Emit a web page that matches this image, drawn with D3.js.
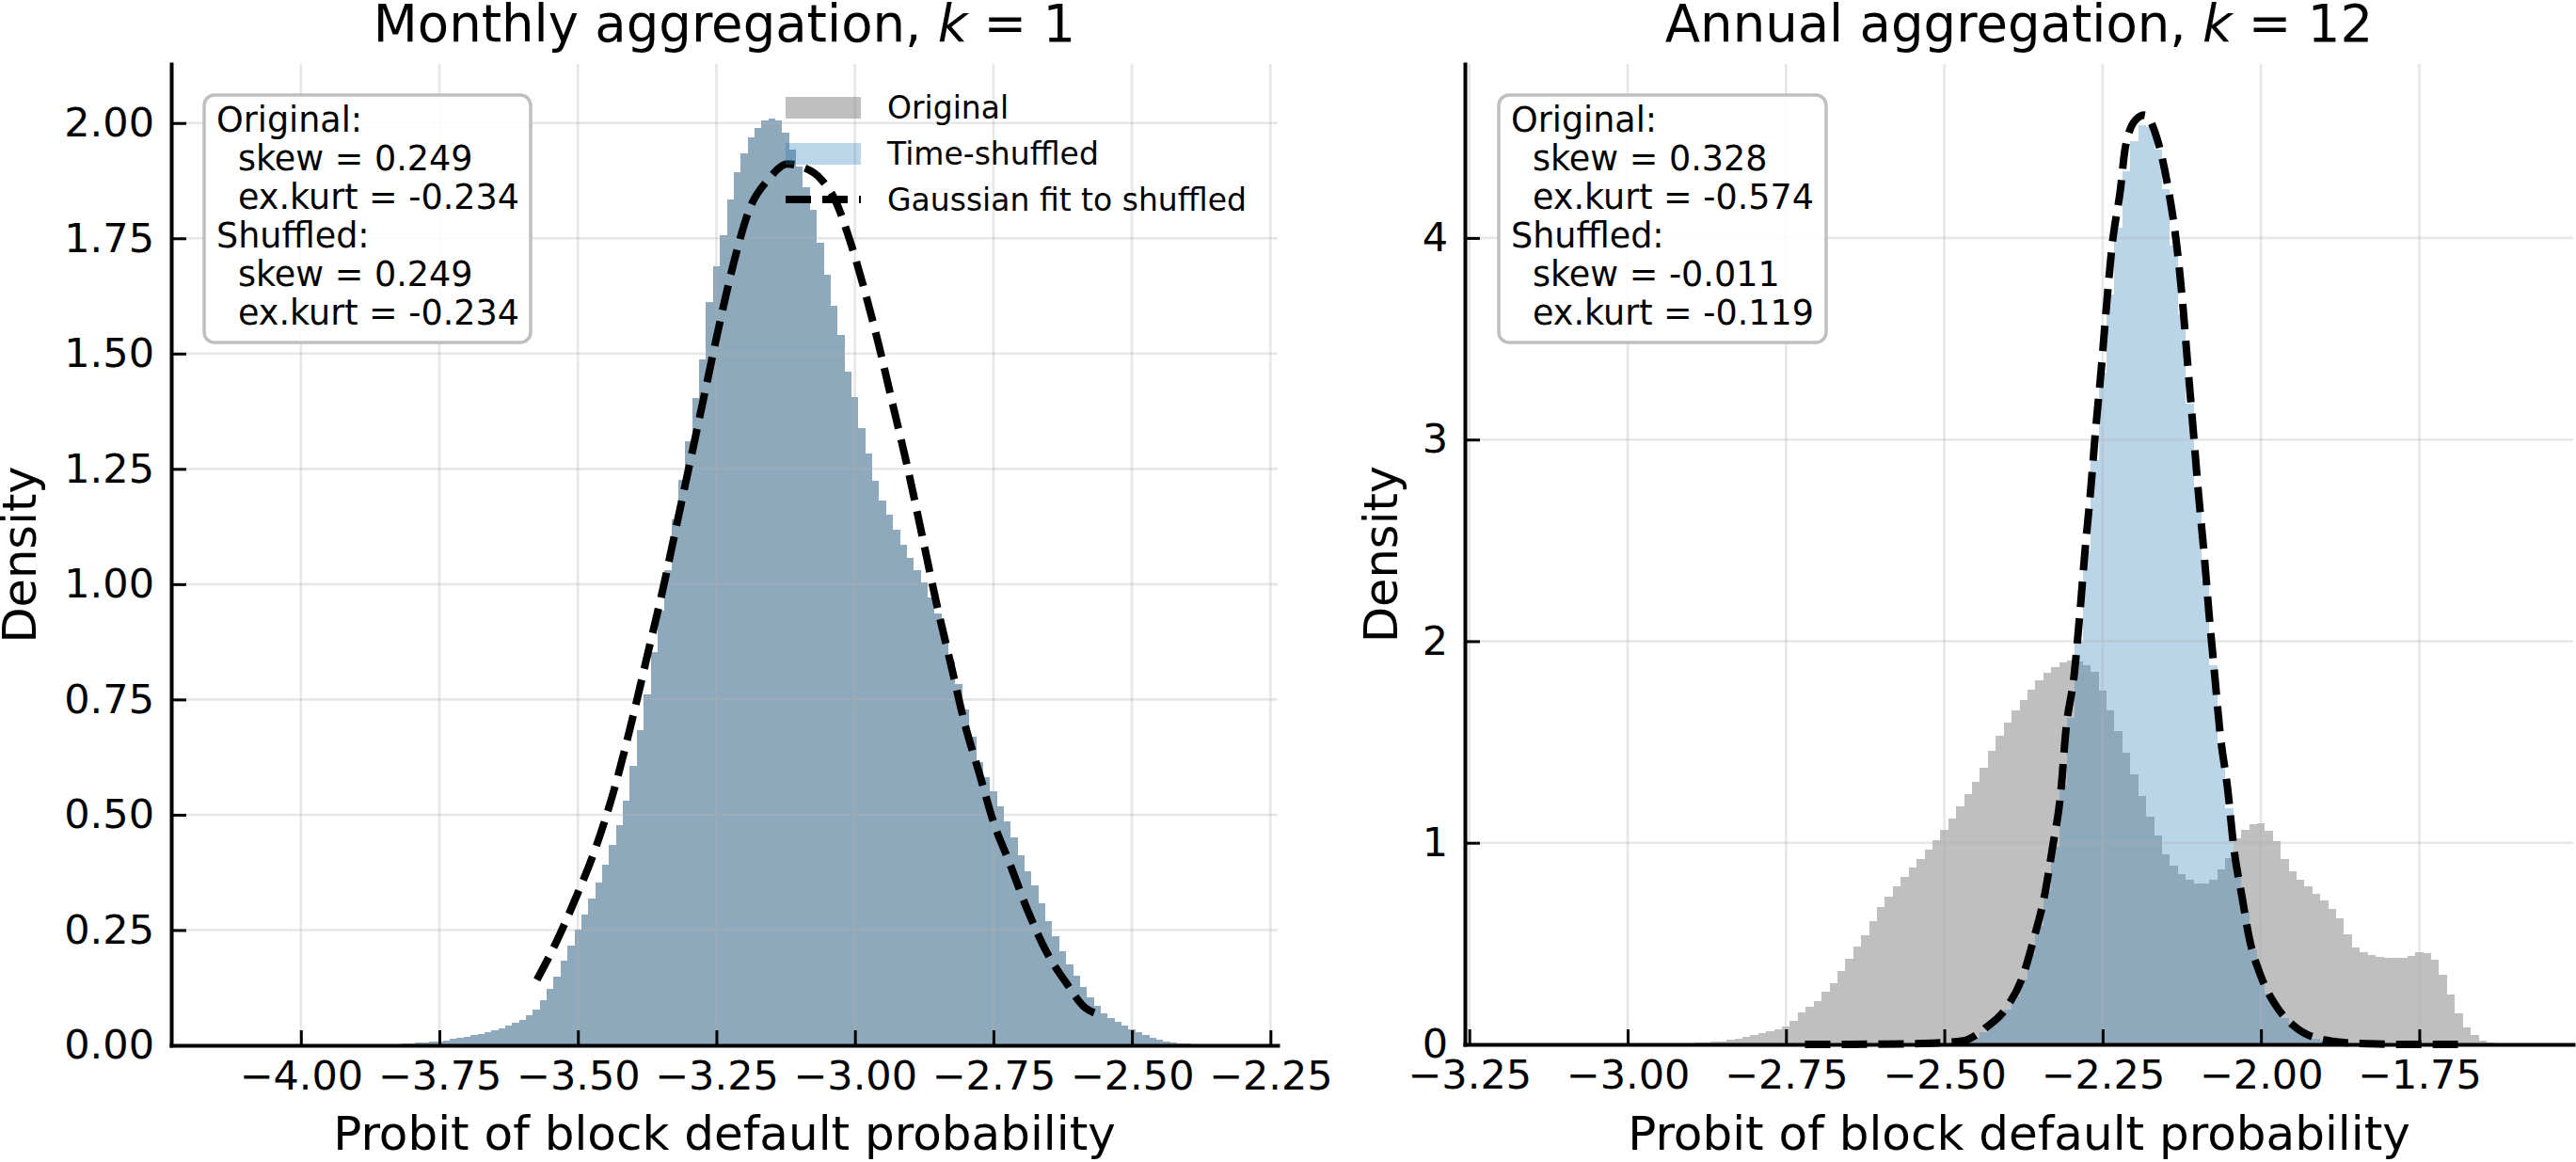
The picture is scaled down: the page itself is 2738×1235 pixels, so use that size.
<!DOCTYPE html>
<html>
<head>
<meta charset="utf-8">
<script src="https://cdn.jsdelivr.net/npm/d3@7"></script>
<style>
  body { margin: 0; background: #fff; }
  svg text { font-family: "DejaVu Sans", sans-serif; white-space: pre; }
</style>
</head>
<body>
<script>
// ---- data ----
const binWidth = 0.0125;

// monthly (k = 1): original and time-shuffled histograms are the same
const leftBinCenters = [
  -3.85,-3.8375,-3.825,-3.8125,-3.8,-3.7875,-3.775,-3.7625,
  -3.75,-3.7375,-3.725,-3.7125,-3.7,-3.6875,-3.675,-3.6625,
  -3.65,-3.6375,-3.625,-3.6125,-3.6,-3.5875,-3.575,-3.5625,
  -3.55,-3.5375,-3.525,-3.5125,-3.5,-3.4875,-3.475,-3.4625,
  -3.45,-3.4375,-3.425,-3.4125,-3.4,-3.3875,-3.375,-3.3625,
  -3.35,-3.3375,-3.325,-3.3125,-3.3,-3.2875,-3.275,-3.2625,
  -3.25,-3.2375,-3.225,-3.2125,-3.2,-3.1875,-3.175,-3.1625,
  -3.15,-3.1375,-3.125,-3.1125,-3.1,-3.0875,-3.075,-3.0625,
  -3.05,-3.0375,-3.025,-3.0125,-3.0,-2.9875,-2.975,-2.9625,
  -2.95,-2.9375,-2.925,-2.9125,-2.9,-2.8875,-2.875,-2.8625,
  -2.85,-2.8375,-2.825,-2.8125,-2.8,-2.7875,-2.775,-2.7625,
  -2.75,-2.7375,-2.725,-2.7125,-2.7,-2.6875,-2.675,-2.6625,
  -2.65,-2.6375,-2.625,-2.6125,-2.6,-2.5875,-2.575,-2.5625,
  -2.55,-2.5375,-2.525,-2.5125,-2.5,-2.4875,-2.475,-2.4625,
  -2.45,-2.4375,-2.425,-2.4125,-2.4,-2.3875,-2.375
];
const leftOriginal = [
  0.002,0.002,0.003,0.004,0.005,0.006,0.007,0.008,
  0.009,0.011,0.014,0.016,0.019,0.022,0.025,0.028,
  0.032,0.037,0.043,0.049,0.056,0.066,0.078,0.098,
  0.122,0.149,0.183,0.216,0.250,0.283,0.318,0.353,
  0.392,0.434,0.477,0.530,0.605,0.683,0.762,0.852,
  0.942,1.030,1.140,1.227,1.310,1.403,1.488,1.612,
  1.690,1.757,1.834,1.893,1.935,1.968,1.990,2.005,
  2.010,2.006,1.980,1.943,1.905,1.860,1.812,1.740,
  1.672,1.603,1.540,1.460,1.405,1.338,1.283,1.224,
  1.182,1.150,1.118,1.085,1.057,1.030,1.004,0.972,
  0.937,0.888,0.833,0.784,0.729,0.670,0.614,0.582,
  0.551,0.519,0.486,0.451,0.412,0.378,0.346,0.308,
  0.270,0.236,0.204,0.175,0.151,0.127,0.104,0.086,
  0.069,0.059,0.050,0.042,0.035,0.028,0.022,0.016,
  0.012,0.009,0.007,0.005,0.004,0.003,0.002
];
const leftShuffled = leftOriginal.slice(); // identical at k = 1

const leftFitX = [-3.574,-3.537,-3.503,-3.468,-3.433,-3.399,-3.373,-3.347,-3.321,-3.295,-3.269,-3.243,
  -3.217,-3.191,-3.156,-3.122,-3.096,-3.061,-3.035,-3.009,-2.983,-2.957,-2.931,-2.905,-2.879,-2.853,
  -2.827,-2.801,-2.775,-2.749,-2.723,-2.689,-2.654,-2.619,-2.585,-2.563];
const leftFitY = [0.142,0.229,0.322,0.428,0.561,0.721,0.854,0.987,1.133,1.279,1.426,1.572,
  1.705,1.811,1.878,1.911,1.905,1.878,1.831,1.745,1.639,1.519,1.386,1.253,1.107,0.960,
  0.827,0.694,0.588,0.481,0.402,0.295,0.202,0.136,0.082,0.068];

// annual (k = 12)
const rightOrigCenters = [
  -2.95,-2.9375,-2.925,-2.9125,-2.9,-2.8875,-2.875,-2.8625,
  -2.85,-2.8375,-2.825,-2.8125,-2.8,-2.7875,-2.775,-2.7625,
  -2.75,-2.7375,-2.725,-2.7125,-2.7,-2.6875,-2.675,-2.6625,
  -2.65,-2.6375,-2.625,-2.6125,-2.6,-2.5875,-2.575,-2.5625,
  -2.55,-2.5375,-2.525,-2.5125,-2.5,-2.4875,-2.475,-2.4625,
  -2.45,-2.4375,-2.425,-2.4125,-2.4,-2.3875,-2.375,-2.3625,
  -2.35,-2.3375,-2.325,-2.3125,-2.3,-2.2875,-2.275,-2.2625,
  -2.25,-2.2375,-2.225,-2.2125,-2.2,-2.1875,-2.175,-2.1625,
  -2.15,-2.1375,-2.125,-2.1125,-2.1,-2.0875,-2.075,-2.0625,
  -2.05,-2.0375,-2.025,-2.0125,-2.0,-1.9875,-1.975,-1.9625,
  -1.95,-1.9375,-1.925,-1.9125,-1.9,-1.8875,-1.875,-1.8625,
  -1.85,-1.8375,-1.825,-1.8125,-1.8,-1.7875,-1.775,-1.7625,
  -1.75,-1.7375,-1.725,-1.7125,-1.7,-1.6875,-1.675,-1.6625,
  -1.65,-1.6375,-1.625,-1.6125
];
const rightOriginal = [
  0.002,0.003,0.004,0.005,0.007,0.008,0.010,0.012,
  0.016,0.022,0.030,0.038,0.045,0.054,0.064,0.076,
  0.090,0.118,0.158,0.187,0.216,0.260,0.304,0.364,
  0.425,0.485,0.542,0.610,0.680,0.733,0.783,0.833,
  0.877,0.920,0.964,1.013,1.064,1.121,1.183,1.242,
  1.300,1.372,1.456,1.531,1.597,1.656,1.708,1.758,
  1.804,1.842,1.870,1.896,1.906,1.898,1.880,1.850,
  1.755,1.655,1.552,1.446,1.338,1.233,1.130,1.037,
  0.945,0.886,0.843,0.817,0.800,0.798,0.815,0.870,
  0.926,1.020,1.065,1.093,1.095,1.060,1.010,0.920,
  0.860,0.815,0.785,0.748,0.715,0.672,0.625,0.545,
  0.482,0.458,0.442,0.434,0.430,0.430,0.431,0.440,
  0.458,0.452,0.420,0.345,0.248,0.155,0.085,0.045,
  0.017,0.008,0.004,0.002
];
const rightShufCenters = [
  -2.5125,-2.5,-2.4875,-2.475,-2.4625,-2.45,-2.4375,-2.425,
  -2.4125,-2.4,-2.3875,-2.375,-2.3625,-2.35,-2.3375,-2.325,
  -2.3125,-2.3,-2.2875,-2.275,-2.2625,-2.25,-2.2375,-2.225,
  -2.2125,-2.2,-2.1875,-2.175,-2.1625,-2.15,-2.1375,-2.125,
  -2.1125,-2.1,-2.0875,-2.075,-2.0625,-2.05,-2.0375,-2.025,
  -2.0125,-2.0,-1.9875,-1.975,-1.9625,-1.95,-1.9375,-1.925,
  -1.9125,-1.9,-1.8875,-1.875,-1.8625
];
const rightShuffled = [
  0.004,0.007,0.010,0.014,0.022,0.035,0.060,0.090,
  0.130,0.175,0.240,0.320,0.450,0.590,0.760,0.980,
  1.290,1.620,2.000,2.450,2.900,3.330,3.720,4.050,
  4.330,4.480,4.560,4.550,4.440,4.240,3.960,3.620,
  3.180,2.760,2.300,1.880,1.480,1.170,0.880,0.660,
  0.470,0.340,0.250,0.180,0.130,0.090,0.062,0.042,
  0.028,0.018,0.011,0.007,0.004
];

const rightFitX = [-2.72,-2.60,-2.52,-2.470,-2.436,-2.401,-2.376,-2.359,-2.342,-2.329,-2.316,-2.308,
  -2.295,-2.286,-2.278,-2.269,-2.261,-2.252,-2.244,-2.235,-2.222,-2.214,-2.197,-2.184,
  -2.163,-2.146,-2.133,-2.124,-2.116,-2.107,-2.099,-2.090,-2.082,-2.073,-2.065,-2.052,
  -2.043,-2.030,-2.018,-2.000,-1.975,-1.949,-1.915,-1.85,-1.76,-1.689];
const rightFitY = [0.000,0.001,0.006,0.018,0.079,0.186,0.338,0.521,0.734,0.978,1.252,1.557,
  1.831,2.136,2.441,2.745,3.050,3.355,3.659,3.964,4.238,4.452,4.589,4.610,
  4.482,4.238,3.964,3.690,3.385,3.050,2.745,2.441,2.136,1.831,1.557,1.252,
  0.978,0.734,0.521,0.338,0.186,0.094,0.034,0.005,0.000,0.000];

// skew, ex.kurt for original, then shuffled
const leftStats = [0.249, -0.234, 0.249, -0.234];
const rightStats = [0.328, -0.574, -0.011, -0.119];

const leftXTicks = [-4.00, -3.75, -3.50, -3.25, -3.00, -2.75, -2.50, -2.25];
const leftYTicks = [0, 0.25, 0.5, 0.75, 1.0, 1.25, 1.5, 1.75, 2.0];
const rightXTicks = [-3.25, -3.00, -2.75, -2.50, -2.25, -2.00, -1.75];
const rightYTicks = [0, 1, 2, 3, 4];

const legendLabels = ["Original", "Time-shuffled", "Gaussian fit to shuffled"];

// ---- drawing ----
const W = 2738, H = 1235;
const grayFill = "#808080", grayAlpha = 0.5;
const blueFill = "#1f77b4", blueAlpha = 0.3;
const dash = "27,12";

[[leftBinCenters, leftOriginal], [rightOrigCenters, rightOriginal], [rightShufCenters, rightShuffled],
 [leftFitX, leftFitY], [rightFitX, rightFitY]].forEach(([a, b]) => {
  if (a.length !== b.length) throw new Error("length mismatch " + a.length + " vs " + b.length);
});

const svg = d3.select("body").append("svg")
  .attr("width", W).attr("height", H);
svg.append("rect").attr("width", W).attr("height", H).attr("fill", "#fff");

const panels = [
  {
    title: ["Monthly aggregation, ", "k", " = 1"],
    left: 182, right: 1358, top: 68, bottom: 1111,
    xDomain: [-4.234, -2.237], yDomain: [0, 2.128],
    xTicks: leftXTicks, yTicks: leftYTicks, yFormat: d3.format(".2f"),
    orig: [leftBinCenters, leftOriginal], shuf: [leftBinCenters, leftShuffled],
    fit: [leftFitX, leftFitY], stats: leftStats,
    box: [217, 101, 347, 263], ylabelX: 38, legend: true
  },
  {
    title: ["Annual aggregation, ", "k", " = 12"],
    left: 1557, right: 2735, top: 68, bottom: 1110,
    xDomain: [-3.257, -1.507], yDomain: [0, 4.863],
    xTicks: rightXTicks, yTicks: rightYTicks, yFormat: d3.format("d"),
    orig: [rightOrigCenters, rightOriginal], shuf: [rightShufCenters, rightShuffled],
    fit: [rightFitX, rightFitY], stats: rightStats,
    box: [1593, 101, 348, 263], ylabelX: 1485, legend: false
  }
];

panels.forEach(p => {
  const x = d3.scaleLinear().domain(p.xDomain).range([p.left, p.right]);
  const y = d3.scaleLinear().domain(p.yDomain).range([p.bottom, p.top]);
  const g = svg.append("g");

  // histograms
  function hist(centers, values, fill, alpha) {
    g.append("g").attr("opacity", alpha).attr("shape-rendering", "crispEdges")
      .selectAll("rect").data(values).join("rect")
      .attr("x", (d, i) => x(centers[i] - binWidth / 2))
      .attr("width", (d, i) => x(centers[i] + binWidth / 2) - x(centers[i] - binWidth / 2))
      .attr("y", d => y(d))
      .attr("height", d => y(0) - y(d))
      .attr("fill", fill);
  }
  hist(p.orig[0], p.orig[1], grayFill, grayAlpha);
  hist(p.shuf[0], p.shuf[1], blueFill, blueAlpha);

  // grid (drawn above the bars, as in the original)
  const grid = g.append("g").attr("stroke", "#b0b0b0").attr("stroke-opacity", 0.3).attr("stroke-width", 2.6);
  grid.selectAll(".gx").data(p.xTicks).join("line")
    .attr("x1", d => x(d)).attr("x2", d => x(d)).attr("y1", p.top).attr("y2", p.bottom);
  grid.selectAll(".gy").data(p.yTicks).join("line")
    .attr("x1", p.left).attr("x2", p.right).attr("y1", d => y(d)).attr("y2", d => y(d));

  // gaussian fit
  const line = d3.line().x(d => x(d[0])).y(d => y(d[1])).curve(d3.curveMonotoneX);
  g.append("path")
    .datum(p.fit[0].map((v, i) => [v, p.fit[1][i]]))
    .attr("d", line)
    .attr("fill", "none").attr("stroke", "#000").attr("stroke-width", 8)
    .attr("stroke-dasharray", dash);

  // axes
  const xAxis = d3.axisBottom(x).tickValues(p.xTicks).tickFormat(d3.format(".2f"))
    .tickSizeInner(-16).tickSizeOuter(0).tickPadding(16);
  const yAxis = d3.axisLeft(y).tickValues(p.yTicks).tickFormat(p.yFormat)
    .tickSizeInner(-16).tickSizeOuter(0).tickPadding(18);
  const gx = g.append("g").attr("transform", `translate(0,${p.bottom})`).call(xAxis);
  const gy = g.append("g").attr("transform", `translate(${p.left},0)`).call(yAxis);
  [gx, gy].forEach(a => {
    a.attr("font-family", null).attr("font-size", null);
    a.select(".domain").attr("stroke-width", 4).attr("stroke-linecap", "square");
    a.selectAll(".tick line").attr("stroke-width", 3);
    a.selectAll(".tick text").attr("font-size", 43).attr("fill", "#000");
  });

  // labels
  g.append("text")
    .attr("x", (p.left + p.right) / 2).attr("y", 1222)
    .attr("text-anchor", "middle").attr("font-size", 50)
    .text("Probit of block default probability");
  g.append("text")
    .attr("transform", `translate(${p.ylabelX},${(p.top + p.bottom) / 2}) rotate(-90)`)
    .attr("text-anchor", "middle").attr("font-size", 49.5)
    .text("Density");
  const t = g.append("text")
    .attr("x", (p.left + p.right) / 2).attr("y", 44)
    .attr("text-anchor", "middle").attr("font-size", 54.5);
  t.append("tspan").text(p.title[0]);
  t.append("tspan").attr("font-style", "italic").text(p.title[1]);
  t.append("tspan").text(p.title[2]);

  // stats box
  const [bx, by, bw, bh] = p.box;
  g.append("rect").attr("x", bx).attr("y", by).attr("width", bw).attr("height", bh)
    .attr("rx", 11).attr("fill", "#fff").attr("fill-opacity", 0.85)
    .attr("stroke", "#bfbfbf").attr("stroke-width", 3.5);
  const lines = [
    ["Original:", 0],
    ["skew = " + p.stats[0].toFixed(3), 1],
    ["ex.kurt = " + p.stats[1].toFixed(3), 1],
    ["Shuffled:", 0],
    ["skew = " + p.stats[2].toFixed(3), 1],
    ["ex.kurt = " + p.stats[3].toFixed(3), 1]
  ];
  g.append("g").selectAll("text").data(lines).join("text")
    .attr("x", d => bx + 13 + d[1] * 23)
    .attr("y", (d, i) => by + 39 + i * 41)
    .attr("font-size", 36.5)
    .text(d => d[0]);

  // legend
  if (p.legend) {
    const lg = g.append("g");
    const lx = 835, hw = 80;
    lg.append("rect").attr("x", lx).attr("y", 103).attr("width", hw).attr("height", 23)
      .attr("fill", grayFill).attr("fill-opacity", grayAlpha);
    lg.append("rect").attr("x", lx).attr("y", 152).attr("width", hw).attr("height", 23)
      .attr("fill", blueFill).attr("fill-opacity", blueAlpha);
    lg.append("line").attr("x1", lx).attr("x2", lx + hw).attr("y1", 212).attr("y2", 212)
      .attr("stroke", "#000").attr("stroke-width", 8).attr("stroke-dasharray", dash);
    lg.selectAll("text").data(legendLabels).join("text")
      .attr("x", 943).attr("y", (d, i) => 126 + i * 49)
      .attr("font-size", 33).text(d => d);
  }
});
</script>
</body>
</html>
